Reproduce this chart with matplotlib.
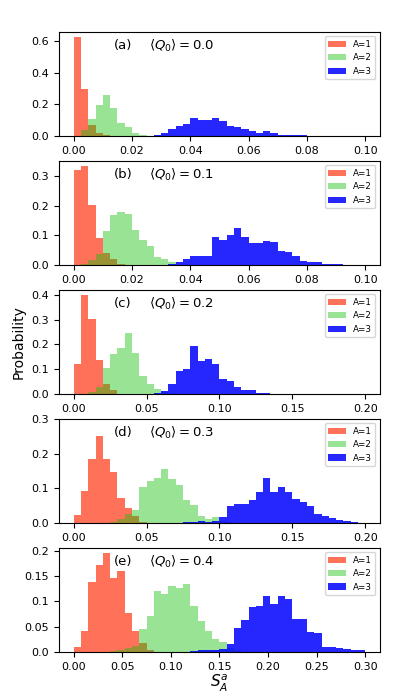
import numpy as np
import matplotlib
matplotlib.use("Agg")
import matplotlib.pyplot as plt

# x ranges and panel labels
xmax = [0.1, 0.1, 0.2, 0.2, 0.3]
xstep = [0.02, 0.02, 0.05, 0.05, 0.05]
panel_tags = ['(a)', '(b)', '(c)', '(d)', '(e)']
q0_values = ['0.0', '0.1', '0.2', '0.3', '0.4']
labels = ['A=1', 'A=2', 'A=3']


def pad(vals, start=0, n=40):
    out = np.zeros(n)
    out[start:start + len(vals)] = vals
    return out


# probabilities per bin (40 bins from 0 to xmax)
red_a = pad([0.625, 0.30, 0.067, 0.02, 0.008, 0.002])
green_a = pad([0.04, 0.108, 0.198, 0.258, 0.18, 0.083, 0.056, 0.02, 0.006, 0.002], 1)
blue_a = pad([0.002, 0.004, 0.02, 0.046, 0.065, 0.075, 0.113, 0.10, 0.10, 0.113,
              0.094, 0.065, 0.056, 0.046, 0.03, 0.02, 0.03, 0.02, 0.006, 0.006,
              0.004, 0.004, 0.002, 0.002], 10)

red_b = pad([0.32, 0.334, 0.203, 0.091, 0.04, 0.021, 0.003])
green_b = pad([0.002, 0.017, 0.036, 0.115, 0.17, 0.178, 0.172, 0.117, 0.084, 0.064,
               0.028, 0.021, 0.01], 1)
blue_b = pad([0.004, 0.01, 0.02, 0.03, 0.03, 0.03, 0.095, 0.085, 0.10, 0.125,
              0.095, 0.073, 0.075, 0.082, 0.078, 0.046, 0.045, 0.03, 0.015, 0.01,
              0.01, 0.005, 0.002, 0.003], 13)

red_c = pad([0.12, 0.40, 0.303, 0.139, 0.039, 0.016, 0.002])
green_c = pad([0.01, 0.03, 0.107, 0.163, 0.185, 0.245, 0.165, 0.072, 0.039, 0.019,
               0.01, 0.003], 2)
blue_c = pad([0.002, 0.002, 0.005, 0.012, 0.04, 0.093, 0.10, 0.192, 0.133, 0.14,
              0.12, 0.06, 0.052, 0.03, 0.015, 0.015, 0.005, 0.003, 0.001], 9)

red_d = pad([0.024, 0.091, 0.185, 0.252, 0.185, 0.147, 0.072, 0.043, 0.02, 0.002])
green_d = pad([0.002, 0.012, 0.026, 0.038, 0.105, 0.12, 0.13, 0.156, 0.127, 0.11,
               0.067, 0.053, 0.019, 0.012, 0.016, 0.006, 0.002], 5)
blue_d = pad([0.002, 0.003, 0.005, 0.004, 0.006, 0.018, 0.048, 0.055, 0.055, 0.065,
              0.09, 0.13, 0.09, 0.105, 0.09, 0.07, 0.06, 0.05, 0.025, 0.02,
              0.015, 0.01, 0.005, 0.003, 0.001], 15)

red_e = pad([0.009, 0.041, 0.139, 0.173, 0.196, 0.147, 0.161, 0.078, 0.041, 0.018, 0.003])
green_e = pad([0.002, 0.004, 0.008, 0.011, 0.045, 0.071, 0.121, 0.115, 0.131, 0.126,
               0.135, 0.091, 0.061, 0.041, 0.026, 0.019, 0.008, 0.003], 5)
blue_e = pad([0.002, 0.003, 0.003, 0.004, 0.006, 0.015, 0.048, 0.063, 0.088, 0.09,
              0.11, 0.095, 0.11, 0.105, 0.065, 0.065, 0.04, 0.037, 0.01, 0.01,
              0.007, 0.005, 0.003, 0.003], 16)

data = [(red_a, green_a, blue_a), (red_b, green_b, blue_b), (red_c, green_c, blue_c),
        (red_d, green_d, blue_d), (red_e, green_e, blue_e)]

colors = ['tomato', (0.08, 0.75, 0.04), 'blue']
alphas = [0.9, 0.43, 0.85]

fig, axes = plt.subplots(5, 1, figsize=(3.99, 6.98), dpi=100)
fig.subplots_adjust(left=0.148, right=0.952, top=0.954, bottom=0.066, hspace=0.24)

for i, ax in enumerate(axes):
    edges = np.linspace(0, xmax[i], 41)
    for k in range(3):
        ax.hist(edges[:-1], bins=edges, weights=data[i][k], histtype='stepfilled',
                color=colors[k], alpha=alphas[k], label=labels[k])
    ax.set_xticks(np.arange(0, xmax[i] + 1e-9, xstep[i]))
    ax.text(0.17, 0.87, panel_tags[i], transform=ax.transAxes, fontsize=9.5, va='center')
    ax.text(0.28, 0.87, r'$\langle Q_0\rangle = %s$' % q0_values[i],
            transform=ax.transAxes, fontsize=9.5, va='center')
    ax.legend(loc='upper right', fontsize=6.3)
    ax.tick_params(labelsize=8)

axes[2].set_yticks([0, 0.1, 0.2, 0.3, 0.4])
axes[3].set_ylim(0, 0.3)
axes[4].set_yticks([0, 0.05, 0.1, 0.15, 0.2])
axes[4].set_yticklabels(['0.0', '0.05', '0.1', '0.15', '0.2'])

axes[2].set_ylabel('Probability', fontsize=10)
axes[4].set_xlabel(r'$S_A^a$', fontsize=11, labelpad=1)

fig.savefig('out.png', dpi=100)
